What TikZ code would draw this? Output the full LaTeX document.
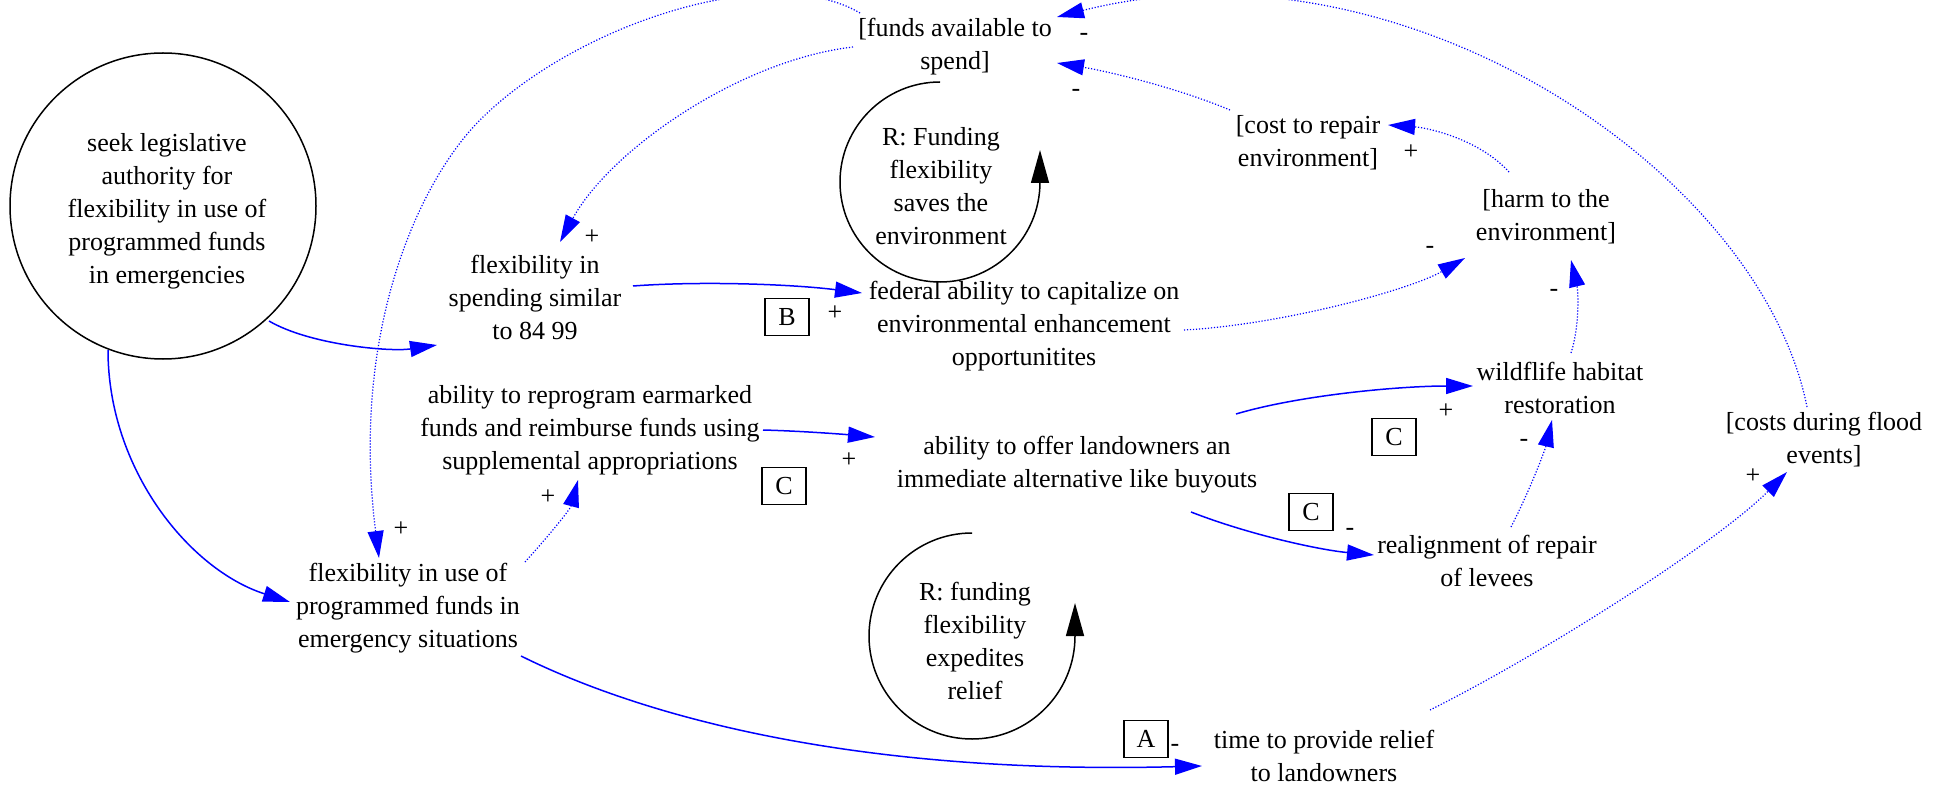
\documentclass[tikz,border=0pt]{standalone}
\usepackage{fontspec}
\setmainfont{Liberation Serif}
\usetikzlibrary{arrows.meta,calc}
\begin{document}
\begin{tikzpicture}[x=0.5pt,y=-0.5pt,
  lbl/.style={align=center,inner sep=0pt,font=\fontsize{13pt}{16.5pt}\selectfont},
  sgn/.style={inner sep=0pt,font=\fontsize{13pt}{16.5pt}\selectfont},
  tag/.style={draw,line width=0.6pt,minimum width=22pt,minimum height=18.5pt,inner sep=0pt,font=\fontsize{13pt}{16.5pt}\selectfont},
  link/.style={blue,line width=0.75pt,-{Triangle[length=13.5pt,width=8pt]}},
  dlink/.style={link,line width=0.6pt,dash pattern=on 0.6pt off 0.9pt},
  loopar/.style={black,line width=0.75pt,-{Triangle[length=16.5pt,width=9pt]}}]
\useasboundingbox (0,0) rectangle (1948,791);
\clip (0,0) rectangle (1948,791);

% nodes
\node[draw,circle,line width=0.75pt,minimum size=153pt,inner sep=0pt] (seek) at (163,206) {};
\node[lbl] (seektext) at (167,211) {seek legislative\\authority for\\flexibility in use of\\programmed funds\\in emergencies};
\node[lbl] (flexspend) at (535,297) {flexibility in\\spending similar\\to 84 99};
\node[lbl] (funds) at (955,47) {[funds available to\\spend]};
\node[lbl] (loopa) at (941,186) {R: Funding\\flexibility\\saves the\\environment};
\node[lbl] (loopb) at (975,641) {R: funding\\flexibility\\expedites\\relief};
\node[lbl] (federal) at (1024,326) {federal ability to capitalize on\\environmental enhancement\\opportunitites};
\node[lbl] (cost) at (1308,143) {[cost to repair\\environment]};
\node[lbl] (harm) at (1546,217) {[harm to the\\environment]};
\node[lbl] (wild) at (1560,388) {wildflife habitat\\restoration};
\node[lbl] (flood) at (1824,440) {[costs during flood\\events]};
\node[lbl] (reprog) at (590,430) {ability to reprogram earmarked\\funds and reimburse funds using\\supplemental appropriations};
\node[lbl] (offer) at (1077,465) {ability to offer landowners an\\immediate alternative like buyouts};
\node[lbl] (realign) at (1487,561) {realignment of repair\\of levees};
\node[lbl] (flexuse) at (408,608) {flexibility in use of\\programmed funds in\\emergency situations};
\node[lbl] (time) at (1324,756) {time to provide relief\\to landowners};

% boxes
\node[tag] (boxB) at (787,317) {B};
\node[tag] (boxC1) at (784,486) {C};
\node[tag] (boxC2) at (1394,437) {C};
\node[tag] (boxC3) at (1311,512) {C};
\node[tag] (boxA) at (1146,739) {A};

% loops
\draw[loopar] (940,82) arc[start angle=270,end angle=0,radius=100] -- (1040,150);
\draw[loopar] (972,533) arc[start angle=270,end angle=0,radius=103] -- (1075,603);

% solid links
\draw[link] ($(seek)+(106,115)$) .. controls (310,345) and (390,352) .. ($(flexspend)+(-98,48)$);
\draw[link] ($(seek)+(-55,144)$) .. controls (108,470) and (190,570) .. ($(flexuse)+(-118,-6)$);
\draw[link] ($(flexspend)+(98,-11)$) .. controls (700,281) and (790,284) .. ($(federal)+(-162,-33)$);
\draw[link] ($(reprog)+(173,0)$) .. controls (800,431) and (840,434) .. ($(offer)+(-202,-28)$);
\draw[link] ($(offer)+(159,-51)$) .. controls (1300,395) and (1400,386) .. ($(wild)+(-87,-2)$);
\draw[link] ($(offer)+(114,47)$) .. controls (1250,535) and (1320,550) .. ($(realign)+(-113,-6)$);
\draw[link] ($(flexuse)+(113,48)$) .. controls (640,715) and (850,775) .. ($(time)+(-122,10)$);

% dotted links
\draw[dlink] ($(time)+(106,-46)$) .. controls (1550,650) and (1720,540) .. ($(flood)+(-37,32)$);
\draw[dlink] ($(flood)+(-17,-33)$) .. controls (1760,170) and (1400,-70) .. ($(funds)+(102,-30)$);
\draw[dlink] ($(cost)+(-78,-33)$) .. controls (1170,85) and (1100,70) .. ($(funds)+(102,16)$);
\draw[dlink] ($(harm)+(-37,-45)$) .. controls (1480,140) and (1430,128) .. ($(cost)+(80,-18)$);
\draw[dlink] ($(federal)+(160,4)$) .. controls (1280,325) and (1410,290) .. ($(harm)+(-81,41)$);
\draw[dlink] ($(wild)+(11,-35)$) .. controls (1580,325) and (1578,290) .. ($(harm)+(25,43)$);
\draw[dlink] ($(realign)+(24,-34)$) .. controls (1530,490) and (1545,450) .. ($(wild)+(-8,32)$);
\draw[dlink] ($(flexuse)+(117,-46)$) .. controls (545,540) and (570,510) .. ($(reprog)+(-12,50)$);
\draw[dlink] ($(funds)+(-102,0)$) .. controls (740,60) and (610,150) .. ($(flexspend)+(25,-55)$);
\draw[dlink] ($(funds)+(-95,-34)$) .. controls (770,-40) and (575,25) .. (480,120) .. controls (420,180) and (350,330) .. ($(flexuse)+(-29,-50)$);

% signs
\node[sgn] (s1) at (592,237) {+};
\node[sgn] (s2) at (835,313) {+};
\node[sgn] (s3) at (1084,37) {-};
\node[sgn] (s4) at (1076,93) {-};
\node[sgn] (s5) at (1411,152) {+};
\node[sgn] (s6) at (1430,250) {-};
\node[sgn] (s7) at (1554,293) {-};
\node[sgn] (s8) at (1446,411) {+};
\node[sgn] (s9) at (1524,443) {-};
\node[sgn] (s10) at (1753,476) {+};
\node[sgn] (s11) at (1350,532) {-};
\node[sgn] (s12) at (849,460) {+};
\node[sgn] (s13) at (548,497) {+};
\node[sgn] (s14) at (401,529) {+};
\node[sgn] (s15) at (1175,748) {-};
\end{tikzpicture}
\end{document}
